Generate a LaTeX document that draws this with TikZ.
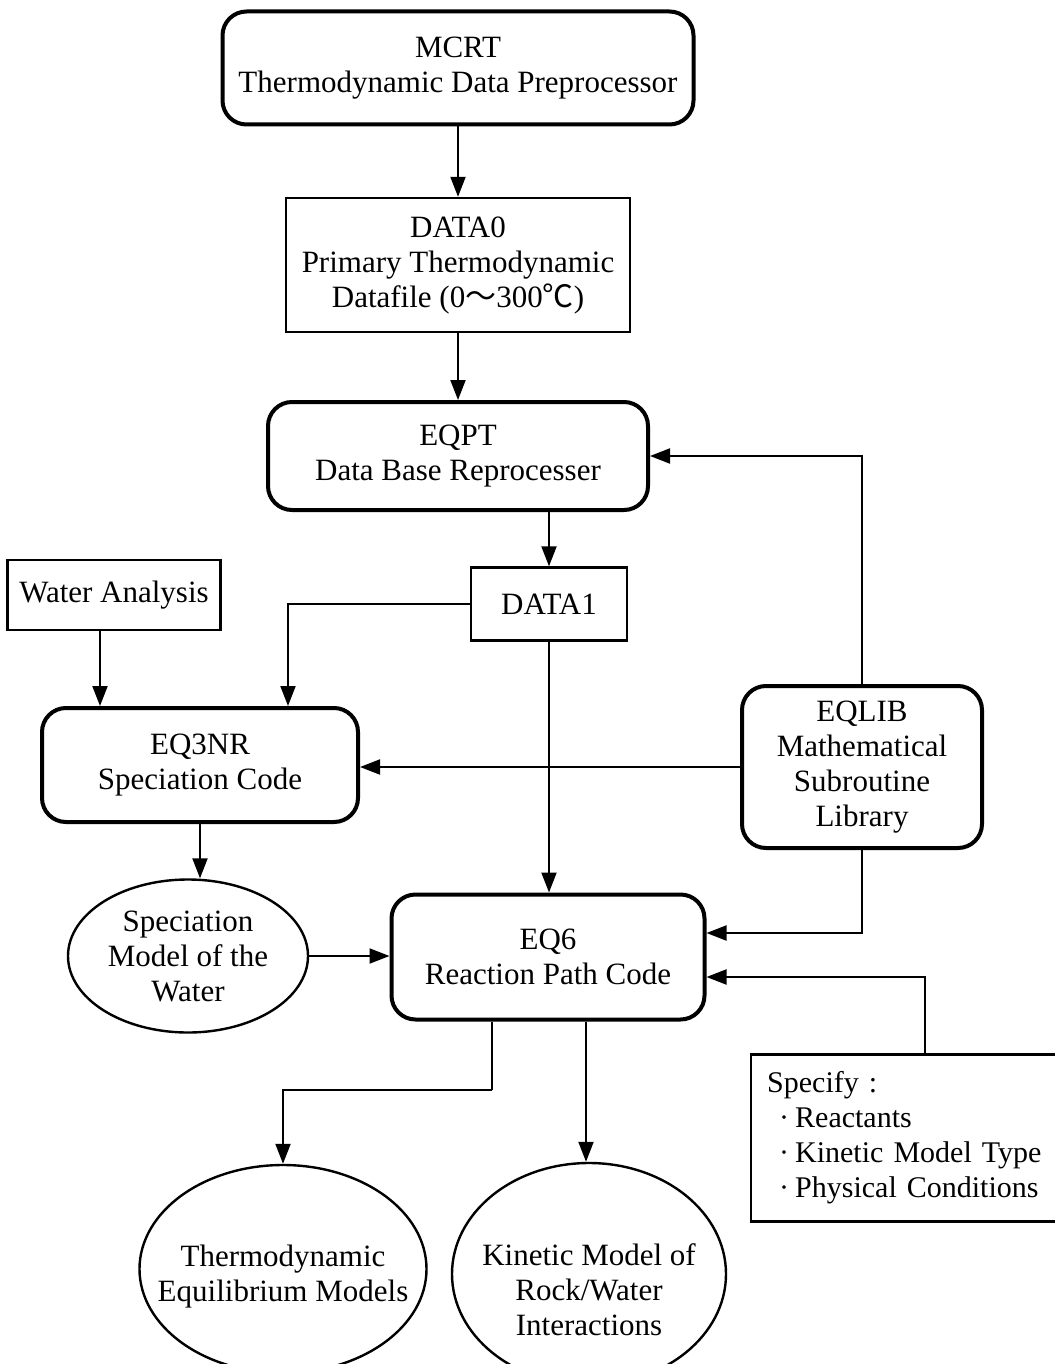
\documentclass[tikz,border=0pt]{standalone}
\usepackage{fontspec}
\setmainfont{Liberation Serif}
\newfontfamily\cjk{Noto Sans CJK SC}
\usetikzlibrary{arrows.meta,shapes.geometric}

\begin{document}
\begin{tikzpicture}[x=0.5pt, y=-0.5pt, ->, >={Triangle[length=10pt,width=7.5pt]},
  line width=1pt, font=\fontsize{15.5}{17.5}\selectfont,
  prog/.style={draw, rounded corners=12pt, line width=2pt, align=center, inner sep=0pt},
  file/.style={draw, line width=1.2pt, align=center, inner sep=0pt},
  model/.style={draw, ellipse, line width=1.2pt, align=center, inner sep=0pt}]
  \useasboundingbox (0,0) rectangle (1054,1364);

  % programs
  \node[prog, minimum width=235.5pt, minimum height=56.5pt] (mcrt) at (458,68)
    {MCRT\\Thermodynamic Data Preprocessor};
  \node[prog, minimum width=190pt, minimum height=54pt] (eqpt) at (458,456)
    {EQPT\\Data Base Reprocesser};
  \node[prog, minimum width=158pt, minimum height=57pt] (eq3nr) at (200,765)
    {EQ3NR\\Speciation Code};
  \node[prog, minimum width=120pt, minimum height=81pt] (eqlib) at (862,767)
    {EQLIB\\Mathematical\\Subroutine\\Library};
  \node[prog, minimum width=156.5pt, minimum height=62.5pt] (eq6) at (548,957)
    {EQ6\\Reaction Path Code};

  % data files and inputs
  \node[file, minimum width=172pt, minimum height=67pt] (data0) at (458,265)
    {DATA0\\Primary Thermodynamic\\Datafile (0{\cjk ～}300{\cjk ℃})};
  \node[file, minimum width=78pt, minimum height=36.5pt] (data1) at (549,604) {DATA1};
  \node[file, minimum width=106.5pt, minimum height=35pt] (water) at (114,595) {Water Analysis};
  \node[file, anchor=west, minimum height=83.5pt, align=left, text width=160pt,
    inner xsep=8pt, font=\fontsize{15}{17.5}\selectfont] (specify) at (750,1138)
    {Specify :\\
     \hspace*{6pt}·\hspace{3pt}Reactants\\
     \hspace*{6pt}·\hspace{3pt}Kinetic Model Type\\
     \hspace*{6pt}·\hspace{3pt}Physical Conditions};

  % models
  \node[model, minimum width=120pt, minimum height=76.5pt] (spec) at (188,956)
    {Speciation\\Model of the\\Water};
  \node[model, minimum width=143.5pt, minimum height=104pt,
    label={[align=center, yshift=-4pt]center:{Thermodynamic\\Equilibrium Models}}]
    (thermo) at (283,1269) {};
  \node[model, minimum width=137pt, minimum height=111pt,
    label={[align=center, yshift=-8pt]center:{Kinetic Model of\\Rock/Water\\Interactions}}]
    (kin) at (589,1274) {};

  % helper points
  \coordinate (wa) at ([xshift=-7pt]water.south);
  \coordinate (d1) at ([xshift=44pt]eq3nr.north);
  \coordinate (sp) at (925,1055);
  \coordinate (e6a) at ([xshift=-28pt]eq6.south);
  \coordinate (e6b) at ([xshift=19pt]eq6.south);
  \coordinate (split) at (492,1090);

  % connectors
  \draw (mcrt) -- (data0);
  \draw (data0) -- (eqpt);
  \draw (eqpt.south -| data1) -- (data1);
  \draw (data1.west) -| (d1);
  \draw (wa) -- (wa |- eq3nr.north);
  \draw (eqlib.west) -- (eqlib.west -| eq3nr.east);
  \draw (eqlib.north) |- (eqpt.east);
  \draw (data1.south) -- (data1.south |- eq6.north);
  \draw (eq3nr.south) -- (eq3nr.south |- spec.north);
  \draw (spec.east) -- (spec.east -| eq6.west);
  \draw (eqlib.south) |- ([yshift=12pt]eq6.east);
  \draw (sp) |- ([yshift=-10pt]eq6.east);
  \draw[-] (e6a) -- (split);
  \draw (split) -| (thermo.north);
  \draw (e6b) -- (e6b |- kin.north);
\end{tikzpicture}
\end{document}
